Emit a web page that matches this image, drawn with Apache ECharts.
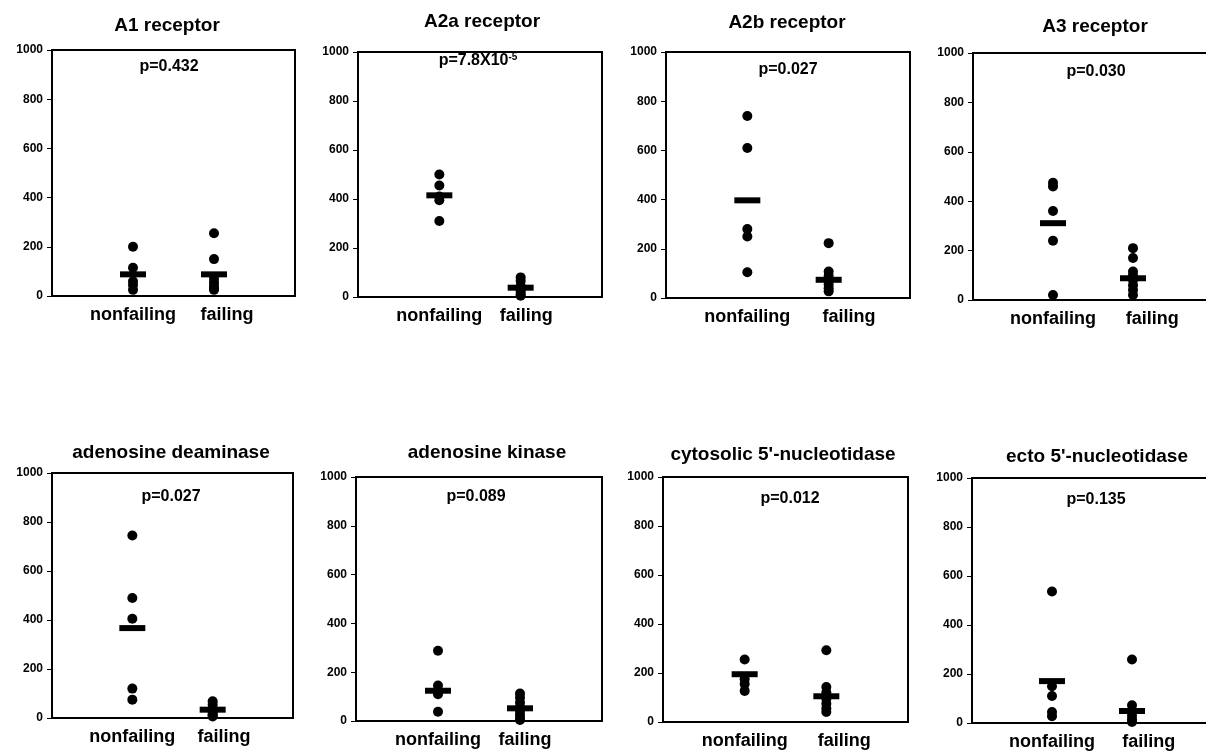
<!DOCTYPE html>
<html>
<head>
<meta charset="utf-8">
<script src="https://cdn.jsdelivr.net/npm/echarts@6/dist/echarts.min.js"></script>
<style>
  html, body { margin: 0; padding: 0; background: #fff; }
  #chart { width: 1206px; height: 755px; }
</style>
</head>
<body>
<div id="chart"></div>
<script>
// panel titles and p values
const panelTitles = [
  "A1 receptor", "A2a receptor", "A2b receptor", "A3 receptor",
  "adenosine deaminase", "adenosine kinase", "cytosolic 5'-nucleotidase", "ecto 5'-nucleotidase"
]
const pLabels = ["p=0.432", "p=7.8X10{sup|-5}", "p=0.027", "p=0.030", "p=0.027", "p=0.089", "p=0.012", "p=0.135"]
const groupNames = ["nonfailing", "failing"]
const yTicks = [0, 200, 400, 600, 800, 1000]

// individual samples
const nonfailingPoints = [
  [200, 115, 60, 45, 25],
  [500, 455, 410, 395, 310],
  [740, 610, 280, 250, 105],
  [475, 460, 360, 240, 20],
  [745, 490, 405, 120, 75],
  [288, 145, 120, 110, 38],
  [255, 175, 155, 127],
  [537, 150, 110, 45, 28]
]
const failingPoints = [
  [255, 150, 70, 55, 40, 30, 25],
  [80, 65, 45, 30, 20, 10, 5],
  [223, 108, 90, 70, 55, 40, 27],
  [210, 170, 115, 100, 80, 60, 40, 20],
  [68, 55, 40, 25, 15, 10, 6],
  [113, 95, 75, 55, 40, 25, 10, 4],
  [293, 143, 120, 95, 75, 55, 41],
  [259, 72, 50, 30, 15, 4]
]

// group means (horizontal bars)
const nonfailingMeans = [88, 415, 397, 311, 367, 124, 195, 171]
const failingMeans = [88, 38, 74, 88, 34, 52, 105, 49]

// layout of each panel (pixels)
const boxes = [
  { left: 52, top: 50, width: 243, height: 246 },
  { left: 358, top: 52, width: 244, height: 245 },
  { left: 666, top: 52, width: 244, height: 246 },
  { left: 973, top: 53, width: 240, height: 247 },
  { left: 52, top: 473, width: 241, height: 245 },
  { left: 356, top: 477, width: 246, height: 244 },
  { left: 663, top: 477, width: 245, height: 245 },
  { left: 972, top: 478, width: 240, height: 245 }
]
const titlePos = [[167, 26], [482, 22], [787, 23], [1095, 27], [171, 453], [487, 453], [783, 455], [1097, 457]]
const pPos = [[169, 67], [478, 61], [788, 70], [1096, 72], [171, 497], [476, 497], [790, 499], [1096, 500]]
const failLabelAt = [2.16, 2.07, 2.25, 2.24, 2.14, 2.06, 2.22, 2.21]

const font = "Liberation Sans, Arial, sans-serif"

const grid = []
const xAxis = []
const yAxis = []
const series = []
const graphic = []

boxes.forEach((b, i) => {
  grid.push({
    left: b.left, top: b.top, width: b.width, height: b.height,
    show: true, borderColor: "#000", borderWidth: 2, backgroundColor: "#fff",
    containLabel: false, outerBoundsMode: "none"
  })
  xAxis.push({
    type: "value", gridIndex: i, min: 0, max: 3,
    axisLine: { show: true, lineStyle: { color: "#000", width: 2 } },
    axisTick: { show: false },
    splitLine: { show: false },
    axisLabel: {
      customValues: [1, failLabelAt[i]],
      formatter: (v) => (v < 1.5 ? groupNames[0] : groupNames[1]),
      color: "#000", fontFamily: font, fontWeight: "bold", fontSize: 18, margin: 10
    }
  })
  yAxis.push({
    type: "value", gridIndex: i, min: 0, max: 1000, interval: 200,
    axisLine: { show: true, lineStyle: { color: "#000", width: 2 } },
    axisTick: { show: true, length: 5, lineStyle: { color: "#000", width: 1 } },
    splitLine: { show: false },
    axisLabel: {
      customValues: yTicks,
      formatter: (v) => String(v),
      color: "#000", fontFamily: font, fontWeight: "bold", fontSize: 12, margin: 9
    }
  })
  series.push({
    type: "scatter", xAxisIndex: i, yAxisIndex: i,
    symbol: "circle", symbolSize: 10,
    itemStyle: { color: "#000", opacity: 1 },
    data: nonfailingPoints[i].map((v) => [1, v])
      .concat(failingPoints[i].map((v) => [2, v]))
  })
  series.push({
    type: "scatter", xAxisIndex: i, yAxisIndex: i, z: 3,
    symbol: "rect", symbolSize: [26, 6],
    itemStyle: { color: "#000", opacity: 1 },
    data: [[1, nonfailingMeans[i]], [2, failingMeans[i]]]
  })
  graphic.push({
    type: "text", x: titlePos[i][0], y: titlePos[i][1],
    style: {
      text: panelTitles[i], fill: "#000", font: "bold 19px " + font,
      textAlign: "center", textVerticalAlign: "middle"
    }
  })
  graphic.push({
    type: "text", x: pPos[i][0], y: pPos[i][1],
    style: {
      text: pLabels[i], fill: "#000", font: "bold 16px " + font,
      textAlign: "center", textVerticalAlign: "middle",
      rich: {
        sup: { fontSize: 10, fontWeight: "bold", fontFamily: font, verticalAlign: "top", padding: [0, 0, 8, 0] }
      }
    }
  })
})

const myChart = echarts.init(document.getElementById("chart"))
myChart.setOption({
  animation: false,
  backgroundColor: "#fff",
  grid: grid,
  xAxis: xAxis,
  yAxis: yAxis,
  series: series,
  graphic: graphic
})
</script>
</body>
</html>
